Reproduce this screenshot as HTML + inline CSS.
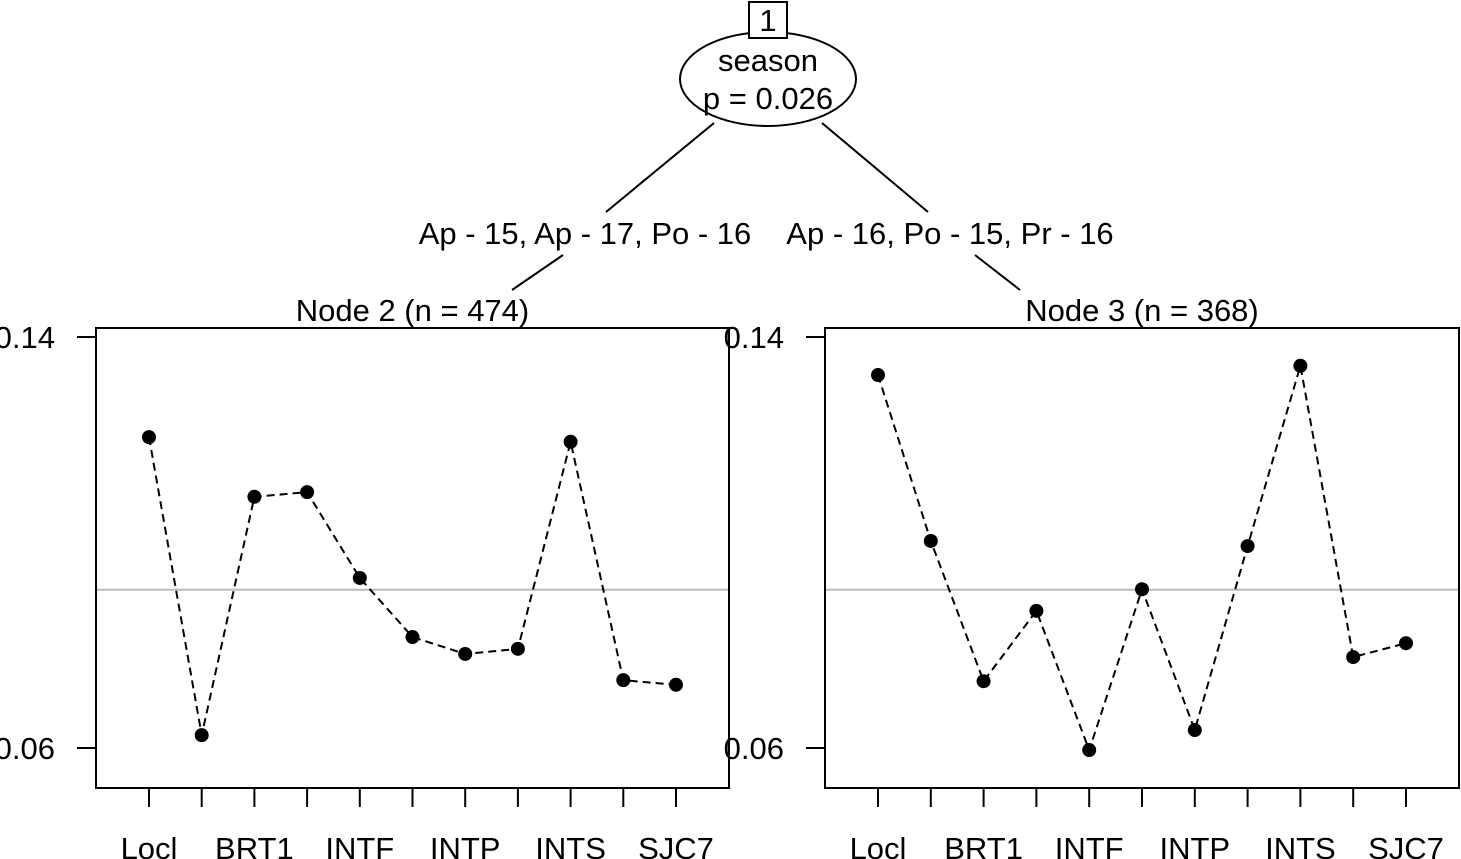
<!DOCTYPE html>
<html><head><meta charset="utf-8"><style>body{margin:0;background:#fff}svg{display:block}text{font-family:"Liberation Sans",Arial,sans-serif;fill:#000}</style></head>
<body>
<svg id="s" width="1461" height="859" viewBox="0 0 1461 859" xmlns="http://www.w3.org/2000/svg">
<g>
<line x1="714" y1="123" x2="606" y2="212" stroke="#000" stroke-width="2"/>
<line x1="822" y1="123" x2="928" y2="212" stroke="#000" stroke-width="2"/>
<line x1="563" y1="255" x2="512" y2="290" stroke="#000" stroke-width="2"/>
<line x1="975" y1="255" x2="1020" y2="290" stroke="#000" stroke-width="2"/>
<ellipse cx="768" cy="79" rx="88" ry="47" fill="#fff" stroke="#000" stroke-width="2"/>
<rect x="749" y="2" width="38" height="36" fill="#fff" stroke="#000" stroke-width="2"/>
<text x="768" y="31" font-size="31" text-anchor="middle">1</text>
<text x="768" y="71" font-size="31" text-anchor="middle">season</text>
<text x="768" y="109" font-size="31" text-anchor="middle">p = 0.026</text>
<text x="585" y="244" font-size="31" text-anchor="middle">Ap - 15, Ap - 17, Po - 16</text>
<text x="950" y="244" font-size="31" text-anchor="middle">Ap - 16, Po - 15, Pr - 16</text>
</g>
</svg>
<script>
const categories=["Locl","c2","BRT1","c4","INTF","c6","INTP","c8","INTS","c10","SJC7"];
const tickLabels=["Locl","","BRT1","","INTF","","INTP","","INTS","","SJC7"];
const node2Values=[0.1205,0.0625,0.1089,0.1098,0.0931,0.0816,0.0783,0.0793,0.1196,0.0732,0.0723];
const node3Values=[0.1326,0.1003,0.0730,0.0867,0.0596,0.0909,0.0635,0.0993,0.1344,0.0777,0.0804];
const yTicks=[0.06,0.14];
const refLine=0.0908;
const NS="http://www.w3.org/2000/svg",svg=document.getElementById('s');
function mk(t,a,p){const e=document.createElementNS(NS,t);for(const k in a)e.setAttribute(k,a[k]);(p||svg).appendChild(e);return e;}
const yS=v=>337+(0.14-v)/0.08*411;
function panel(x0,x1,title,vals,nm){
  const g=mk('g',{});
  
  
  const xS=i=>x0+53+i*(x1-x0-106)/(categories.length-1);
  const t=mk('text',{x:(x0+x1)/2,y:321,'font-size':31,'text-anchor':'middle'},g);t.textContent=title;
  
  
  const rl=mk('line',{x1:x0,x2:x1,y1:yS(refLine),y2:yS(refLine),stroke:'#bbb','stroke-width':2},g);
  
  
  const r=mk('rect',{x:x0,y:328,width:x1-x0,height:460,fill:'none',stroke:'#000','stroke-width':2},g);
  
  
  yTicks.forEach(v=>{
    const l=mk('line',{x1:x0-19,x2:x0,y1:yS(v),y2:yS(v),stroke:'#000','stroke-width':2},g);
    
    
    const tx=mk('text',{x:x0-41,y:yS(v)+11,'font-size':31,'text-anchor':'end'},g);tx.textContent=v.toFixed(2);
    
    
  });
  categories.forEach((c,i)=>{
    const l=mk('line',{x1:xS(i),x2:xS(i),y1:788,y2:807,stroke:'#000','stroke-width':2},g);
    
    
    if(tickLabels[i]){const tx=mk('text',{x:xS(i),y:859,'font-size':31,'text-anchor':'middle'},g);tx.textContent=tickLabels[i];
    
    }
  });
  const pl=mk('polyline',{points:vals.map((v,i)=>xS(i)+','+yS(v)).join(' '),fill:'none',stroke:'#000','stroke-width':2,'stroke-dasharray':'8,5'},g);
  
  
  vals.forEach((v,i)=>{
    const c=mk('circle',{cx:xS(i),cy:yS(v),r:7,fill:'#000'},g);
    
    
  });
}
panel(96,729,'Node 2 (n = 474)',node2Values,'node-2-panel');
panel(825,1459,'Node 3 (n = 368)',node3Values,'node-3-panel');
</script>
</body></html>
